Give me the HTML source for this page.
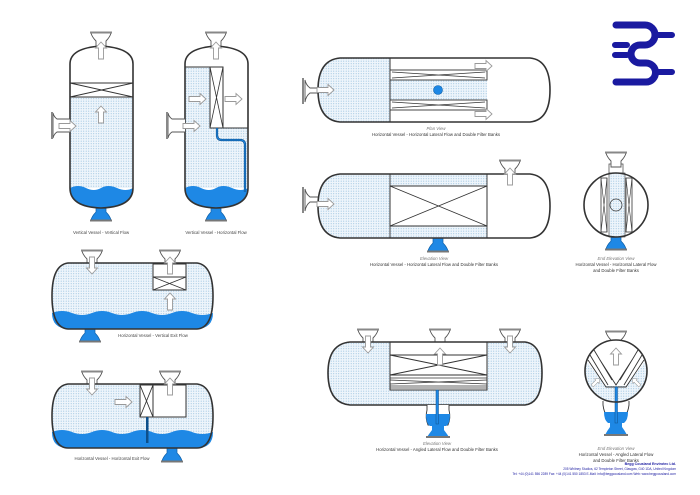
<!DOCTYPE html>
<html><head><meta charset="utf-8"><style>
html,body{margin:0;padding:0;background:#fff;}
svg{display:block;font-family:"Liberation Sans",sans-serif;}
</style></head><body>
<svg width="700" height="495" viewBox="0 0 700 495" xmlns="http://www.w3.org/2000/svg">
<defs>
<pattern id="dt" width="2.5" height="2.5" patternUnits="userSpaceOnUse">
<rect width="2.5" height="2.5" fill="#eef5fb"/><circle cx="1.2" cy="1.2" r="0.55" fill="#9cc3e0"/></pattern>
<path id="ar" d="M-9,-2.5 H2 V-5.5 L8,0 L2,5.5 V2.5 H-9 Z" fill="#fff" stroke="#999" stroke-width="0.9"/>
<g id="nz"><path d="M-5,1 L-5,-5 Q-9,-9 -10,-13 H10 Q9,-9 5,-5 L5,1 Z" fill="#fff" stroke="#555" stroke-width="0.9"/><rect x="-11" y="-14.5" width="22" height="2" fill="#888"/></g>
<g id="nzb"><path d="M-5,-1 L-5,5 Q-9,9 -10,13 H10 Q9,9 5,5 L5,-1 Z" fill="#1e88e5" stroke="#0d5fa8" stroke-width="0.7"/><rect x="-11" y="12.5" width="22" height="2" fill="#777"/></g>
</defs>
<rect width="700" height="495" fill="#fff"/>

<!-- Vessel 1 -->
<use href="#nz" x="101" y="46"/>
<use href="#nzb" x="101" y="207"/>
<path d="M70,64 Q70,48 101,46 Q133,48 133,64 V188 Q133,207 101,208 Q70,207 70,188 Z" fill="#fff"/>
<rect x="70" y="97" width="63" height="91" fill="url(#dt)"/>
<path d="M70,188 Q78,184 86,188 T101,188 T117,188 T133,188 Q133,207 101,208 Q70,207 70,188Z" fill="#1e88e5"/>
<rect x="70" y="83" width="63" height="14" fill="#fff" stroke="#333" stroke-width="1"/>
<path d="M70,83 L133,97 M70,97 L133,83" stroke="#333" stroke-width="1"/>
<path d="M70,64 Q70,48 101,46 Q133,48 133,64 V188 Q133,207 101,208 Q70,207 70,188 Z" fill="none" stroke="#333" stroke-width="1.6"/>
<path d="M70,119 H57 Q54,117 53,113 V138 Q54,134 57,132 H70" fill="#fff" stroke="#555" stroke-width="0.9"/>
<rect x="51" y="112" width="2" height="27" fill="#888"/>
<use href="#ar" x="68" y="126"/>
<use href="#ar" transform="translate(101,114) rotate(-90)"/>
<use href="#ar" transform="translate(101,50) rotate(-90)"/>
<text x="101" y="234" font-size="4.3" text-anchor="middle" fill="#444">Vertical Vessel - Vertical Flow</text>

<!-- Vessel 2 -->
<use href="#nz" x="216" y="46"/>
<use href="#nzb" x="216" y="207"/>
<path d="M185,64 Q185,48 216,46 Q248,48 248,64 V188 Q248,207 216,208 Q185,207 185,188 Z" fill="#fff"/>
<rect x="185" y="67" width="25" height="121" fill="url(#dt)"/>
<rect x="210" y="128" width="38" height="60" fill="url(#dt)"/>
<path d="M185,188 Q193,184 201,188 T216,188 T232,188 T248,188 Q248,207 216,208 Q185,207 185,188Z" fill="#1e88e5"/>
<path d="M185,67 H223 M223,128 H248" fill="none" stroke="#333" stroke-width="1"/>
<rect x="210" y="67" width="13" height="61" fill="#fff" stroke="#333" stroke-width="1"/>
<path d="M210,67 L223,128 M223,67 L210,128" stroke="#333" stroke-width="0.8"/>
<path d="M217,128 V135 Q217,140 222,140 H240 Q245,140 245,145 V192" fill="none" stroke="#0d4f8a" stroke-width="2.2"/>
<path d="M217,128 V135 Q217,140 222,140 H240 Q245,140 245,145 V192" fill="none" stroke="#1e88e5" stroke-width="1"/>
<path d="M185,64 Q185,48 216,46 Q248,48 248,64 V188 Q248,207 216,208 Q185,207 185,188 Z" fill="none" stroke="#333" stroke-width="1.6"/>
<path d="M185,119 H172 Q169,117 168,113 V138 Q169,134 172,132 H185" fill="#fff" stroke="#555" stroke-width="0.9"/>
<rect x="166" y="112" width="2" height="27" fill="#888"/>
<use href="#ar" x="192" y="126"/>
<use href="#ar" x="198" y="99"/>
<use href="#ar" x="234" y="99"/>
<use href="#ar" transform="translate(216,50) rotate(-90)"/>
<text x="216" y="234" font-size="4.3" text-anchor="middle" fill="#444">Vertical Vessel - Horizontal Flow</text>

<!-- Horizontal vessel vertical exit -->
<use href="#nz" x="92" y="264"/>
<use href="#nz" x="170" y="264"/>
<use href="#nzb" x="90" y="328"/>
<path d="M68,263 H197 Q213,265 213,296 Q213,328 197,329 H68 Q52,328 52,296 Q52,265 68,263Z" fill="url(#dt)"/>
<path d="M52,313 Q62,309 72,313 T92,313 T112,313 T132,313 T152,313 T172,313 T192,313 T213,313 Q213,328 197,329 H68 Q52,328 52,313Z" fill="#1e88e5"/>
<rect x="153" y="264" width="33" height="13" fill="#fff" stroke="#333" stroke-width="1"/>
<rect x="153" y="277" width="33" height="13" fill="#fff" stroke="#333" stroke-width="1"/>
<path d="M153,277 L186,290 M153,290 L186,277" stroke="#333" stroke-width="0.9"/>
<path d="M68,263 H197 Q213,265 213,296 Q213,328 197,329 H68 Q52,328 52,296 Q52,265 68,263Z" fill="none" stroke="#333" stroke-width="1.6"/>
<use href="#ar" transform="translate(92,266) rotate(90)"/>
<use href="#ar" transform="translate(170,265) rotate(-90)"/>
<use href="#ar" transform="translate(170,301) rotate(-90)"/>
<text x="153" y="337" font-size="4.3" text-anchor="middle" fill="#444">Horizontal Vessel - Vertical Exit Flow</text>

<!-- Horizontal vessel horizontal exit -->
<use href="#nz" x="92" y="385"/>
<use href="#nz" x="170" y="385"/>
<use href="#nzb" x="172" y="448"/>
<path d="M68,384 H197 Q213,386 213,416 Q213,448 197,448 H68 Q52,448 52,416 Q52,386 68,384Z" fill="url(#dt)"/>
<path d="M52,432 Q62,428 72,432 T92,432 T112,432 T132,432 T152,432 T172,432 T192,432 T213,432 Q213,448 197,448 H68 Q52,448 52,432Z" fill="#1e88e5"/>
<rect x="140" y="385" width="46" height="32" fill="#fff" stroke="#333" stroke-width="1"/>
<rect x="140" y="385" width="13" height="32" fill="#fff" stroke="#333" stroke-width="1"/>
<path d="M140,385 L153,417 M153,385 L140,417" stroke="#333" stroke-width="0.9"/>
<rect x="146" y="417" width="2.5" height="26" fill="#0d4f8a"/>
<path d="M68,384 H197 Q213,386 213,416 Q213,448 197,448 H68 Q52,448 52,416 Q52,386 68,384Z" fill="none" stroke="#333" stroke-width="1.6"/>
<use href="#ar" transform="translate(92,387) rotate(90)"/>
<use href="#ar" transform="translate(170,386) rotate(-90)"/>
<use href="#ar" x="124" y="402"/>
<text x="112" y="460" font-size="4.3" text-anchor="middle" fill="#444">Horizontal Vessel - Horizontal Exit Flow</text>

<!-- Plan view -->
<path d="M318,88 H310 Q306,85 305,80 V102 Q306,96 310,93 H318" fill="#fff" stroke="#555" stroke-width="0.9"/>
<rect x="302" y="78" width="2" height="26" fill="#888"/>
<path d="M340,58 H530 Q550,60 550,90 Q550,120 530,122 H340 Q318,120 318,90 Q318,60 340,58Z" fill="#fff"/>
<path d="M340,58 H390 V122 H340 Q318,120 318,90 Q318,60 340,58Z" fill="url(#dt)"/>
<rect x="390" y="80" width="97" height="20" fill="url(#dt)"/>
<path d="M390,58 V122" stroke="#333" stroke-width="1"/>
<rect x="390" y="70" width="97" height="10" fill="#fff" stroke="#333" stroke-width="0.9"/>
<rect x="390" y="100" width="97" height="10" fill="#fff" stroke="#333" stroke-width="0.9"/>
<path d="M392,72 L485,78 M392,78 L485,72 M392,102 L485,108 M392,108 L485,102" stroke="#333" stroke-width="0.8"/>
<circle cx="438" cy="90" r="4.5" fill="#1e88e5" stroke="#0d5fa8" stroke-width="0.6"/>
<path d="M340,58 H530 Q550,60 550,90 Q550,120 530,122 H340 Q318,120 318,90 Q318,60 340,58Z" fill="none" stroke="#333" stroke-width="1.6"/>
<use href="#ar" x="326" y="90"/>
<use href="#ar" x="484" y="66"/>
<use href="#ar" x="484" y="114"/>
<text x="436" y="130" font-size="4.3" text-anchor="middle" fill="#777" font-style="italic">Plan View</text>
<text x="436" y="136" font-size="4.3" text-anchor="middle" fill="#333">Horizontal Vessel - Horizontal Lateral Flow and Double Filter Banks</text>

<!-- Elevation view -->
<use href="#nz" x="510" y="174"/>
<use href="#nzb" x="438" y="238"/>
<path d="M318,197 H310 Q306,194 305,189 V211 Q306,205 310,202 H318" fill="#fff" stroke="#555" stroke-width="0.9"/>
<rect x="302" y="187" width="2" height="26" fill="#888"/>
<path d="M340,174 H530 Q550,176 550,206 Q550,236 530,238 H340 Q318,236 318,206 Q318,176 340,174Z" fill="#fff"/>
<path d="M340,174 H390 V238 H340 Q318,236 318,206 Q318,176 340,174Z" fill="url(#dt)"/>
<rect x="390" y="174" width="97" height="12" fill="url(#dt)"/>
<rect x="390" y="226" width="97" height="12" fill="url(#dt)"/>
<rect x="390" y="186" width="97" height="40" fill="#fff" stroke="#333" stroke-width="1"/>
<path d="M390,186 L487,226 M390,226 L487,186 M390,174 V238 M487,174 V238" stroke="#333" stroke-width="0.9"/>
<path d="M340,174 H530 Q550,176 550,206 Q550,236 530,238 H340 Q318,236 318,206 Q318,176 340,174Z" fill="none" stroke="#333" stroke-width="1.6"/>
<use href="#ar" x="326" y="204"/>
<use href="#ar" transform="translate(510,176) rotate(-90)"/>
<text x="434" y="260" font-size="4.3" text-anchor="middle" fill="#777" font-style="italic">Elevation View</text>
<text x="434" y="266" font-size="4.3" text-anchor="middle" fill="#333">Horizontal Vessel - Horizontal Lateral Flow and Double Filter Banks</text>

<!-- End elevation -->
<rect x="609" y="164" width="14" height="12" fill="#fff" stroke="#555" stroke-width="0.8"/>
<use href="#nz" x="616" y="166"/>
<use href="#nzb" x="616" y="236"/>
<circle cx="616" cy="205" r="32" fill="#fff"/>
<rect x="609" y="173" width="16" height="64" fill="url(#dt)" stroke="#333" stroke-width="0.6"/>
<rect x="601" y="178" width="6" height="54" fill="#fff" stroke="#333" stroke-width="0.8"/>
<rect x="626" y="178" width="6" height="54" fill="#fff" stroke="#333" stroke-width="0.8"/>
<path d="M601,178 L607,232 M607,178 L601,232 M626,178 L632,232 M632,178 L626,232" stroke="#333" stroke-width="0.6"/>
<circle cx="616" cy="205" r="6" fill="none" stroke="#333" stroke-width="0.7"/>
<circle cx="616" cy="205" r="32" fill="none" stroke="#333" stroke-width="1.6"/>
<text x="616" y="260" font-size="4.3" text-anchor="middle" fill="#777" font-style="italic">End Elevation View</text>
<text x="616" y="266" font-size="4.3" text-anchor="middle" fill="#333">Horizontal Vessel - Horizontal Lateral Flow</text>
<text x="616" y="272" font-size="4.3" text-anchor="middle" fill="#333">and Double Filter Banks</text>

<!-- Angled elevation -->
<use href="#nz" x="368" y="343"/>
<use href="#nz" x="440" y="343"/>
<use href="#nz" x="510" y="343"/>
<path d="M350,342 H525 Q542,344 542,373 Q542,403 525,405 H350 Q328,403 328,373 Q328,344 350,342Z" fill="url(#dt)"/>
<rect x="390" y="342" width="97" height="48" fill="#fff" stroke="#333" stroke-width="1"/>
<path d="M390,355 H487 M390,375 H487 M390,355 L487,375 M390,375 L487,355" stroke="#333" stroke-width="0.9"/>
<path d="M390,378 H487 M390,380 L487,384 M390,384 L487,380 M390,386 H487 M390,388 H487" stroke="#333" stroke-width="0.8"/>
<path d="M350,342 H525 Q542,344 542,373 Q542,403 525,405 H350 Q328,403 328,373 Q328,344 350,342Z" fill="none" stroke="#333" stroke-width="1.6"/>
<path d="M427,405 V410 Q425,418 428,425 H448 Q451,418 449,410 V405" fill="#fff" stroke="#333" stroke-width="0.9"/>
<path d="M426,414 H450 Q450,424 446,426 H430 Q426,424 426,414Z" fill="#1e88e5"/>
<path d="M432,426 V430 Q429,434 427,437 H449 Q447,434 444,430 V426Z" fill="#1e88e5"/>
<rect x="426" y="436" width="24" height="2" fill="#777"/>
<rect x="436" y="390" width="2.5" height="34" fill="#1e88e5" stroke="#0d4f8a" stroke-width="0.5"/>
<use href="#ar" transform="translate(368,345) rotate(90)"/>
<use href="#ar" transform="translate(510,345) rotate(90)"/>
<use href="#ar" transform="translate(440,356) rotate(-90)"/>
<text x="437" y="445" font-size="4.3" text-anchor="middle" fill="#777" font-style="italic">Elevation View</text>
<text x="437" y="451" font-size="4.3" text-anchor="middle" fill="#333">Horizontal Vessel - Angled Lateral Flow and Double Filter Banks</text>

<!-- End angled -->
<use href="#nz" x="616" y="345"/>
<circle cx="616" cy="371" r="31" fill="#fff"/>
<path d="M587,362 L606,386 L626,386 L645,362 A31,31 0 0 1 616,402 A31,31 0 0 1 587,362Z" fill="url(#dt)"/>
<path d="M588,360 L606,387 H626 L644,360 M594,350 L612,380 M638,350 L620,380 M590,355 L608,385 M642,355 L624,385 M600,360 L616,385 L632,360" fill="none" stroke="#333" stroke-width="0.9"/>
<path d="M603,401 V405 Q604,412 606,414 H626 Q628,412 629,405 V401" fill="#fff" stroke="#333" stroke-width="0.9"/>
<path d="M604,412 H628 Q628,420 624,423 H608 Q604,420 604,412Z" fill="#1e88e5"/>
<path d="M610,423 V427 Q607,431 605,435 H627 Q625,431 622,427 V423Z" fill="#1e88e5"/>
<rect x="604" y="434" width="24" height="2" fill="#777"/>
<rect x="615" y="387" width="2.5" height="36" fill="#1e88e5" stroke="#0d4f8a" stroke-width="0.5"/>
<circle cx="616" cy="371" r="31" fill="none" stroke="#333" stroke-width="1.6"/>
<use href="#ar" transform="translate(616,356) rotate(-90)"/>
<use href="#ar" transform="translate(596,382) rotate(-45) scale(0.6)"/>
<use href="#ar" transform="translate(636,382) rotate(-135) scale(0.6)"/>
<text x="616" y="450" font-size="4.3" text-anchor="middle" fill="#777" font-style="italic">End Elevation View</text>
<text x="616" y="456" font-size="4.3" text-anchor="middle" fill="#333">Horizontal Vessel - Angled Lateral Flow</text>
<text x="616" y="462" font-size="4.3" text-anchor="middle" fill="#333">and Double Filter Banks</text>

<!-- Footer -->
<text x="676" y="465" font-size="3.6" text-anchor="end" fill="#1a1aa0" font-weight="bold">Begg Cousland Envirotec Ltd.</text>
<text x="676" y="470" font-size="3.2" text-anchor="end" fill="#1a1aa0">205 Whitney Studios, 62 Templeton Street, Glasgow, G40 1DA, United Kingdom</text>
<text x="676" y="475" font-size="3.2" text-anchor="end" fill="#1a1aa0">Tel: +44 (0)141 556 2289   Fax: +44 (0)141 550 1853   E-Mail: info@beggcousland.com   Web: www.beggcousland.com</text>

<!-- Logo -->
<g fill="none" stroke="#1a1aa0" stroke-linecap="round">
<path d="M616,25 H645 A10,10 0 0 1 645,45 H640 A9,9 0 0 0 640,63 H646 A9.5,9.5 0 0 1 646,82 H616" stroke-width="7"/>
<path d="M615,45 H627 M615,55 H627 M658,35 H672 M658,72 H672" stroke-width="6"/>
</g>
</svg>
</body></html>
